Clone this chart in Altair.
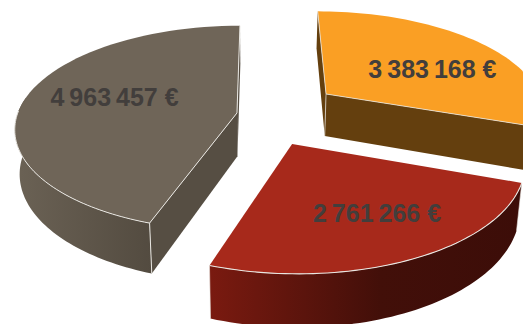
import math
import altair as alt
import pandas as pd

# Slice values, clockwise from 12 o'clock
values = [3383168, 2761266, 4963457]
labels = ["3\u2009383\u2009168 €", "2\u2009761\u2009266 €", "4\u2009963\u2009457 €"]
top_colors = ["#fa9f24", "#a7291b", "#6f6558"]
wall_colors = ["#643f0e", "#420f09", "#564e43"]
# explosion offset of each slice in the pie plane (unit radius)
offset_x = [0.31, 0.14, -0.105]
offset_y = [-0.0628, 0.428, 0.132]
label_nudge = [(10, 7), (17, 5), (5, -5)]
edge = "#e9e7e2"

# pinhole camera for the tilted pie
HX, HY, A, B, M, D = 260.0, -560.0, 215.0, 660.0, 0.146, 42.5


def proj(X, Y, low=False):
    w = 1 - M * Y
    sx = HX + A * X / w
    sy = HY + (B + (D if low else 0)) / w
    if low:
        sx += (HX - sx) * 0.02
    return sx, sy


def rim(i, t, low=False):
    r = math.radians(t)
    return proj(offset_x[i] + math.sin(r), offset_y[i] - math.cos(r), low)


def arc(i, a, b, low=False, n=60):
    return [rim(i, a + (b - a) * k / n, low) for k in range(n + 1)]


def centre(i, low=False):
    return proj(offset_x[i], offset_y[i], low)


X_ENC = alt.Scale(domain=[8, 523], nice=False, zero=False)
Y_ENC = alt.Scale(domain=[324, 8], nice=False, zero=False)


def frame(points):
    return pd.DataFrame({"x": [p[0] for p in points], "y": [p[1] for p in points], "i": range(len(points))})


def enc(ch):
    return ch.encode(
        x=alt.X("x:Q", scale=X_ENC, axis=None),
        y=alt.Y("y:Q", scale=Y_ENC, axis=None),
        order="i:Q",
    )


def poly(points, fill):
    return enc(alt.Chart(frame(points)).mark_line(fill=fill, strokeWidth=0, clip=True, interpolate="linear"))


def line(points, width=1.0):
    return enc(alt.Chart(frame(points)).mark_line(color=edge, strokeWidth=width, clip=True))


def grad(stops):
    return alt.LinearGradient(
        gradient="linear", x1=0, x2=1, y1=0, y2=0,
        stops=[alt.GradientStop(color=c, offset=o) for o, c in stops],
    )


total = sum(values)
starts, ends, cum = [], [], 0
for v in values:
    starts.append(cum / total * 360)
    cum += v
    ends.append(cum / total * 360)

layers = []

# orange slice
i = 0
s, e = starts[i], ends[i]
layers.append(poly([rim(i, s), centre(i), centre(i, True), rim(i, s, True)], wall_colors[i]))
layers.append(poly([centre(i), rim(i, e), rim(i, e, True), centre(i, True)], wall_colors[i]))
layers.append(poly([centre(i)] + arc(i, s, e), top_colors[i]))
layers.append(line([rim(i, s), centre(i), rim(i, e)], 0.8))
layers.append(line([centre(i), centre(i, True)], 0.7))

# red slice
i = 1
s, e = starts[i], ends[i]
layers.append(poly(arc(i, s, e) + arc(i, e, s, True), grad([(0, "#7a1a10"), (0.55, "#420f09"), (1, "#3c0d08")])))
layers.append(poly([centre(i)] + arc(i, s, e), top_colors[i]))
layers.append(line(arc(i, s, e), 1.1))
layers.append(line([rim(i, s), rim(i, s, True)], 0.6))
layers.append(line([rim(i, e), rim(i, e, True)], 0.6))

# grey-brown slice
i = 2
s, e = starts[i], ends[i]
layers.append(poly([rim(i, e), centre(i), centre(i, True), rim(i, e, True)], wall_colors[i]))
layers.append(poly([centre(i), rim(i, s), rim(i, s, True), centre(i, True)], wall_colors[i]))
layers.append(poly(arc(i, s, s + 80) + arc(i, s + 80, s, True), grad([(0, "#6b6255"), (1, "#534b40")])))
layers.append(poly([centre(i)] + arc(i, s, e), top_colors[i]))
layers.append(line([rim(i, e), centre(i), rim(i, s), rim(i, s, True)], 1.0))
layers.append(line(arc(i, s, s + 72), 1.0))

# value labels
rows = []
for i, t in enumerate(labels):
    mid = math.radians((starts[i] + ends[i]) / 2)
    sx, sy = proj(offset_x[i] + 0.6 * math.sin(mid), offset_y[i] - 0.6 * math.cos(mid))
    rows.append({"x": sx + label_nudge[i][0], "y": sy + label_nudge[i][1], "t": t})
text = alt.Chart(pd.DataFrame(rows)).mark_text(
    font="Liberation Sans", fontWeight="bold", fontSize=25, color="#423e3c",
    align="center", baseline="middle",
).encode(
    x=alt.X("x:Q", scale=X_ENC, axis=None),
    y=alt.Y("y:Q", scale=Y_ENC, axis=None),
    text="t:N",
)
layers.append(text)

chart = alt.layer(*layers).properties(
    width=515, height=316, padding=0, autosize=alt.AutoSizeParams(type="none"),
    background="white",
).configure_view(stroke=None)
chart.save("out.html", embed_options={"renderer": "svg", "actions": False})
